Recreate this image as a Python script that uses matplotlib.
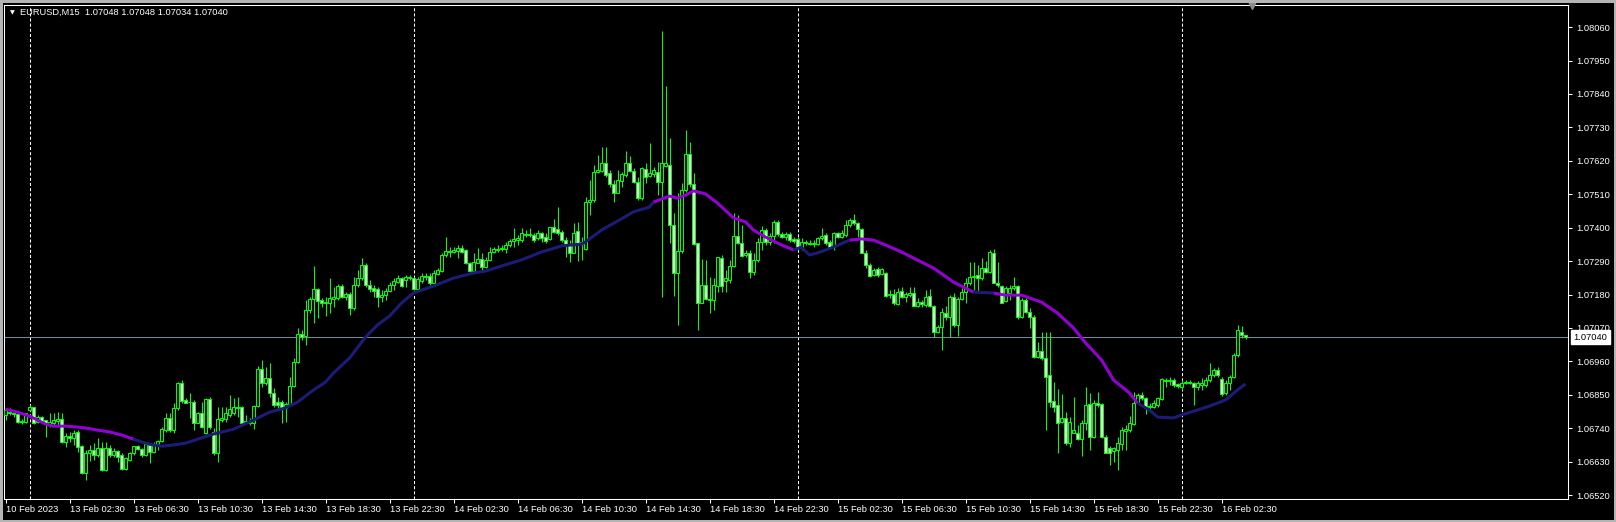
import numpy as np
import matplotlib
matplotlib.use("Agg")
import matplotlib.pyplot as plt
from matplotlib.patches import Rectangle
from matplotlib.transforms import blended_transform_factory

plt.rcParams["font.family"] = ["Liberation Sans", "DejaVu Sans"]
plt.rcParams["lines.scale_dashes"] = False

# EURUSD M15 bars, index 0 = 13 Feb 00:00 (bars -6..-1 are the close of 10 Feb)
bars = np.arange(-6, 305)

opens = [
    1.06784, 1.06793, 1.06790, 1.06787, 1.06761, 1.06761, 1.06800, 1.06810, 1.06761, 1.06777,
    1.06767, 1.06754, 1.06757, 1.06764, 1.06770, 1.06695, 1.06714, 1.06708, 1.06728, 1.06681,
    1.06593, 1.06659, 1.06669, 1.06652, 1.06675, 1.06603, 1.06675, 1.06652, 1.06665, 1.06652,
    1.06606, 1.06636, 1.06659, 1.06681, 1.06671, 1.06652, 1.06685, 1.06662, 1.06688, 1.06698,
    1.06734, 1.06774, 1.06734, 1.06807, 1.06889, 1.06833, 1.06826, 1.06826, 1.06757, 1.06790,
    1.06724, 1.06836, 1.06728, 1.06659, 1.06767, 1.06770, 1.06784, 1.06790, 1.06810, 1.06810,
    1.06757, 1.06764, 1.06757, 1.06813, 1.06935, 1.06889, 1.06905, 1.06856, 1.06826, 1.06826,
    1.06807, 1.06820, 1.06879, 1.06958, 1.07050, 1.07043, 1.07129, 1.07165, 1.07198, 1.07162,
    1.07152, 1.07152, 1.07165, 1.07169, 1.07208, 1.07172, 1.07182, 1.07136, 1.07211, 1.07234,
    1.07277, 1.07211, 1.07201, 1.07198, 1.07172, 1.07178, 1.07192, 1.07211, 1.07221, 1.07234,
    1.07228, 1.07234, 1.07234, 1.07198, 1.07225, 1.07241, 1.07241, 1.07218, 1.07248, 1.07257,
    1.07310, 1.07323, 1.07320, 1.07323, 1.07333, 1.07327, 1.07284, 1.07257, 1.07284, 1.07297,
    1.07271, 1.07294, 1.07320, 1.07327, 1.07330, 1.07330, 1.07343, 1.07356, 1.07359, 1.07359,
    1.07379, 1.07376, 1.07376, 1.07366, 1.07383, 1.07369, 1.07363, 1.07402, 1.07396, 1.07386,
    1.07359, 1.07343, 1.07317, 1.07389, 1.07346, 1.07330, 1.07484, 1.07491, 1.07583, 1.07586,
    1.07613, 1.07580, 1.07544, 1.07514, 1.07554, 1.07573, 1.07613, 1.07586, 1.07550, 1.07497,
    1.07593, 1.07570, 1.07577, 1.07583, 1.07550, 1.07603, 1.07606, 1.07409, 1.07251, 1.07323,
    1.07524, 1.07642, 1.07544, 1.07350, 1.07152, 1.07211, 1.07165, 1.07162, 1.07208, 1.07300,
    1.07225, 1.07228, 1.07274, 1.07373, 1.07350, 1.07310, 1.07317, 1.07254, 1.07294, 1.07353,
    1.07392, 1.07353, 1.07373, 1.07419, 1.07379, 1.07369, 1.07379, 1.07363, 1.07363, 1.07333,
    1.07353, 1.07346, 1.07350, 1.07346, 1.07366, 1.07376, 1.07353, 1.07336, 1.07383, 1.07369,
    1.07376, 1.07409, 1.07425, 1.07415, 1.07396, 1.07317, 1.07277, 1.07244, 1.07264, 1.07248,
    1.07251, 1.07178, 1.07182, 1.07149, 1.07192, 1.07172, 1.07178, 1.07185, 1.07142, 1.07155,
    1.07146, 1.07175, 1.07142, 1.07057, 1.07073, 1.07119, 1.07106, 1.07172, 1.07080, 1.07165,
    1.07188, 1.07218, 1.07238, 1.07244, 1.07234, 1.07267, 1.07254, 1.07317, 1.07218, 1.07208,
    1.07159, 1.07185, 1.07201, 1.07208, 1.07106, 1.07162, 1.07122, 1.07106, 1.06974, 1.06994,
    1.06971, 1.06915, 1.06830, 1.06817, 1.06761, 1.06774, 1.06691, 1.06724, 1.06724, 1.06704,
    1.06757, 1.06820, 1.06711, 1.06823, 1.06820, 1.06711, 1.06675, 1.06665, 1.06669, 1.06688,
    1.06731, 1.06734, 1.06754, 1.06826, 1.06849, 1.06840, 1.06813, 1.06810, 1.06817, 1.06836,
    1.06899, 1.06896, 1.06899, 1.06886, 1.06876, 1.06889, 1.06892, 1.06889, 1.06876, 1.06882,
    1.06882, 1.06899, 1.06915, 1.06932, 1.06902, 1.06856, 1.06889, 1.06909, 1.06981, 1.07057,
    1.07048,
]

highs = [
    1.06807, 1.06807, 1.06793, 1.06790, 1.06770, 1.06790, 1.06817, 1.06810, 1.06784, 1.06780,
    1.06767, 1.06790, 1.06790, 1.06793, 1.06790, 1.06724, 1.06728, 1.06734, 1.06734, 1.06685,
    1.06669, 1.06685, 1.06691, 1.06708, 1.06695, 1.06695, 1.06685, 1.06675, 1.06669, 1.06659,
    1.06645, 1.06662, 1.06681, 1.06685, 1.06675, 1.06691, 1.06691, 1.06695, 1.06701, 1.06744,
    1.06790, 1.06790, 1.06823, 1.06892, 1.06899, 1.06840, 1.06856, 1.06833, 1.06793, 1.06826,
    1.06840, 1.06843, 1.06741, 1.06810, 1.06810, 1.06810, 1.06849, 1.06840, 1.06843, 1.06813,
    1.06784, 1.06774, 1.06817, 1.06945, 1.06965, 1.06941, 1.06955, 1.06872, 1.06843, 1.06833,
    1.06826, 1.06909, 1.06971, 1.07070, 1.07063, 1.07162, 1.07172, 1.07274, 1.07201, 1.07169,
    1.07172, 1.07234, 1.07205, 1.07215, 1.07215, 1.07188, 1.07188, 1.07238, 1.07261, 1.07300,
    1.07284, 1.07228, 1.07211, 1.07205, 1.07195, 1.07201, 1.07221, 1.07234, 1.07244, 1.07238,
    1.07244, 1.07244, 1.07238, 1.07238, 1.07251, 1.07251, 1.07251, 1.07261, 1.07267, 1.07317,
    1.07369, 1.07336, 1.07336, 1.07343, 1.07343, 1.07330, 1.07287, 1.07317, 1.07333, 1.07317,
    1.07304, 1.07336, 1.07336, 1.07343, 1.07343, 1.07353, 1.07363, 1.07399, 1.07376, 1.07399,
    1.07392, 1.07399, 1.07383, 1.07392, 1.07386, 1.07383, 1.07402, 1.07429, 1.07468, 1.07392,
    1.07369, 1.07359, 1.07415, 1.07419, 1.07369, 1.07501, 1.07557, 1.07606, 1.07639, 1.07665,
    1.07665, 1.07590, 1.07557, 1.07590, 1.07583, 1.07652, 1.07636, 1.07596, 1.07567, 1.07599,
    1.07613, 1.07678, 1.07599, 1.07616, 1.08047, 1.07866, 1.07695, 1.07448, 1.07514, 1.07547,
    1.07721, 1.07681, 1.07580, 1.07350, 1.07297, 1.07294, 1.07238, 1.07234, 1.07304, 1.07310,
    1.07261, 1.07294, 1.07448, 1.07442, 1.07409, 1.07327, 1.07327, 1.07317, 1.07366, 1.07406,
    1.07399, 1.07383, 1.07425, 1.07425, 1.07386, 1.07386, 1.07386, 1.07369, 1.07369, 1.07366,
    1.07359, 1.07359, 1.07359, 1.07369, 1.07399, 1.07383, 1.07359, 1.07386, 1.07386, 1.07392,
    1.07425, 1.07432, 1.07445, 1.07419, 1.07399, 1.07327, 1.07284, 1.07267, 1.07271, 1.07267,
    1.07254, 1.07195, 1.07198, 1.07201, 1.07205, 1.07188, 1.07205, 1.07205, 1.07169, 1.07162,
    1.07195, 1.07198, 1.07146, 1.07080, 1.07136, 1.07142, 1.07178, 1.07185, 1.07172, 1.07201,
    1.07234, 1.07287, 1.07287, 1.07277, 1.07300, 1.07290, 1.07327, 1.07330, 1.07287, 1.07211,
    1.07208, 1.07211, 1.07238, 1.07211, 1.07169, 1.07169, 1.07136, 1.07113, 1.07024, 1.07057,
    1.07057, 1.07057, 1.06892, 1.06869, 1.06853, 1.06793, 1.06777, 1.06843, 1.06751, 1.06767,
    1.06876, 1.06856, 1.06833, 1.06859, 1.06823, 1.06718, 1.06681, 1.06678, 1.06711, 1.06744,
    1.06751, 1.06780, 1.06859, 1.06856, 1.06859, 1.06843, 1.06823, 1.06833, 1.06843, 1.06905,
    1.06905, 1.06909, 1.06905, 1.06889, 1.06899, 1.06899, 1.06899, 1.06892, 1.06896, 1.06905,
    1.06909, 1.06955, 1.06938, 1.06941, 1.06909, 1.06899, 1.06915, 1.06988, 1.07080, 1.07076,
    1.07048,
]

lows = [
    1.06767, 1.06784, 1.06777, 1.06757, 1.06754, 1.06757, 1.06797, 1.06754, 1.06757, 1.06761,
    1.06711, 1.06744, 1.06751, 1.06751, 1.06691, 1.06678, 1.06695, 1.06685, 1.06662, 1.06590,
    1.06570, 1.06632, 1.06636, 1.06645, 1.06599, 1.06599, 1.06645, 1.06645, 1.06629, 1.06603,
    1.06603, 1.06632, 1.06652, 1.06669, 1.06645, 1.06649, 1.06626, 1.06659, 1.06669, 1.06695,
    1.06728, 1.06728, 1.06724, 1.06800, 1.06823, 1.06823, 1.06774, 1.06734, 1.06757, 1.06741,
    1.06721, 1.06737, 1.06652, 1.06629, 1.06761, 1.06761, 1.06777, 1.06784, 1.06777, 1.06754,
    1.06757, 1.06751, 1.06737, 1.06810, 1.06876, 1.06882, 1.06843, 1.06810, 1.06800, 1.06757,
    1.06761, 1.06813, 1.06876, 1.06955, 1.07030, 1.07014, 1.07119, 1.07086, 1.07103, 1.07139,
    1.07109, 1.07119, 1.07139, 1.07162, 1.07169, 1.07162, 1.07113, 1.07129, 1.07205, 1.07228,
    1.07205, 1.07188, 1.07172, 1.07139, 1.07155, 1.07162, 1.07188, 1.07195, 1.07218, 1.07205,
    1.07205, 1.07228, 1.07195, 1.07195, 1.07218, 1.07228, 1.07211, 1.07211, 1.07244, 1.07254,
    1.07304, 1.07304, 1.07317, 1.07300, 1.07317, 1.07280, 1.07254, 1.07254, 1.07284, 1.07261,
    1.07267, 1.07290, 1.07317, 1.07320, 1.07323, 1.07317, 1.07336, 1.07336, 1.07343, 1.07353,
    1.07369, 1.07369, 1.07353, 1.07359, 1.07353, 1.07350, 1.07359, 1.07383, 1.07376, 1.07353,
    1.07304, 1.07287, 1.07317, 1.07290, 1.07294, 1.07327, 1.07442, 1.07484, 1.07580, 1.07583,
    1.07567, 1.07534, 1.07484, 1.07514, 1.07534, 1.07567, 1.07583, 1.07547, 1.07491, 1.07491,
    1.07547, 1.07567, 1.07567, 1.07507, 1.07172, 1.07599, 1.07350, 1.07175, 1.07080, 1.07317,
    1.07517, 1.07534, 1.07343, 1.07063, 1.07152, 1.07162, 1.07119, 1.07129, 1.07188, 1.07188,
    1.07188, 1.07218, 1.07271, 1.07346, 1.07304, 1.07304, 1.07234, 1.07244, 1.07287, 1.07327,
    1.07343, 1.07343, 1.07350, 1.07373, 1.07366, 1.07359, 1.07353, 1.07350, 1.07327, 1.07327,
    1.07343, 1.07343, 1.07336, 1.07343, 1.07359, 1.07343, 1.07333, 1.07327, 1.07366, 1.07366,
    1.07369, 1.07402, 1.07409, 1.07369, 1.07317, 1.07267, 1.07238, 1.07241, 1.07238, 1.07244,
    1.07172, 1.07169, 1.07146, 1.07146, 1.07169, 1.07155, 1.07172, 1.07142, 1.07139, 1.07139,
    1.07139, 1.07139, 1.07040, 1.07053, 1.06998, 1.07096, 1.07040, 1.07073, 1.07043, 1.07162,
    1.07152, 1.07211, 1.07195, 1.07188, 1.07228, 1.07251, 1.07251, 1.07218, 1.07205, 1.07152,
    1.07155, 1.07162, 1.07195, 1.07099, 1.07103, 1.07119, 1.07070, 1.06971, 1.06971, 1.06965,
    1.06734, 1.06810, 1.06793, 1.06659, 1.06757, 1.06685, 1.06678, 1.06724, 1.06701, 1.06649,
    1.06734, 1.06669, 1.06708, 1.06810, 1.06708, 1.06659, 1.06619, 1.06629, 1.06603, 1.06669,
    1.06669, 1.06728, 1.06751, 1.06823, 1.06833, 1.06787, 1.06800, 1.06807, 1.06810, 1.06833,
    1.06876, 1.06882, 1.06876, 1.06872, 1.06866, 1.06886, 1.06886, 1.06817, 1.06866, 1.06866,
    1.06876, 1.06892, 1.06909, 1.06909, 1.06846, 1.06849, 1.06866, 1.06905, 1.06974, 1.07037,
    1.07034,
]

closes = [
    1.06800, 1.06790, 1.06787, 1.06761, 1.06764, 1.06790, 1.06810, 1.06757, 1.06777, 1.06764,
    1.06754, 1.06761, 1.06767, 1.06770, 1.06695, 1.06714, 1.06708, 1.06724, 1.06678, 1.06593,
    1.06659, 1.06669, 1.06652, 1.06675, 1.06603, 1.06675, 1.06652, 1.06665, 1.06645, 1.06606,
    1.06642, 1.06659, 1.06681, 1.06671, 1.06652, 1.06688, 1.06662, 1.06685, 1.06698, 1.06737,
    1.06774, 1.06734, 1.06807, 1.06889, 1.06830, 1.06823, 1.06827, 1.06757, 1.06790, 1.06744,
    1.06836, 1.06744, 1.06659, 1.06770, 1.06774, 1.06790, 1.06803, 1.06810, 1.06807, 1.06757,
    1.06764, 1.06757, 1.06813, 1.06935, 1.06889, 1.06905, 1.06856, 1.06817, 1.06817, 1.06807,
    1.06820, 1.06879, 1.06958, 1.07050, 1.07040, 1.07129, 1.07165, 1.07198, 1.07159, 1.07152,
    1.07155, 1.07169, 1.07172, 1.07208, 1.07172, 1.07182, 1.07136, 1.07211, 1.07234, 1.07277,
    1.07211, 1.07198, 1.07192, 1.07172, 1.07178, 1.07192, 1.07211, 1.07225, 1.07234, 1.07208,
    1.07238, 1.07238, 1.07198, 1.07231, 1.07241, 1.07238, 1.07218, 1.07251, 1.07261, 1.07310,
    1.07323, 1.07320, 1.07327, 1.07333, 1.07320, 1.07284, 1.07257, 1.07287, 1.07297, 1.07271,
    1.07294, 1.07320, 1.07330, 1.07330, 1.07333, 1.07343, 1.07356, 1.07363, 1.07366, 1.07383,
    1.07376, 1.07379, 1.07359, 1.07383, 1.07366, 1.07356, 1.07402, 1.07386, 1.07383, 1.07359,
    1.07343, 1.07317, 1.07383, 1.07350, 1.07353, 1.07484, 1.07491, 1.07583, 1.07590, 1.07613,
    1.07573, 1.07544, 1.07514, 1.07557, 1.07577, 1.07613, 1.07586, 1.07550, 1.07497, 1.07596,
    1.07567, 1.07580, 1.07590, 1.07550, 1.07613, 1.07613, 1.07409, 1.07251, 1.07323, 1.07524,
    1.07642, 1.07544, 1.07346, 1.07152, 1.07211, 1.07165, 1.07162, 1.07211, 1.07304, 1.07208,
    1.07234, 1.07274, 1.07373, 1.07350, 1.07307, 1.07317, 1.07254, 1.07294, 1.07353, 1.07392,
    1.07353, 1.07373, 1.07419, 1.07379, 1.07369, 1.07379, 1.07359, 1.07356, 1.07336, 1.07353,
    1.07350, 1.07350, 1.07346, 1.07366, 1.07373, 1.07350, 1.07336, 1.07383, 1.07369, 1.07383,
    1.07409, 1.07425, 1.07415, 1.07396, 1.07317, 1.07277, 1.07241, 1.07261, 1.07244, 1.07264,
    1.07175, 1.07182, 1.07152, 1.07188, 1.07172, 1.07182, 1.07185, 1.07142, 1.07155, 1.07149,
    1.07172, 1.07142, 1.07057, 1.07073, 1.07122, 1.07106, 1.07172, 1.07080, 1.07165, 1.07188,
    1.07218, 1.07238, 1.07241, 1.07234, 1.07267, 1.07254, 1.07320, 1.07218, 1.07211, 1.07152,
    1.07201, 1.07201, 1.07208, 1.07106, 1.07162, 1.07122, 1.07106, 1.06974, 1.06994, 1.06971,
    1.06909, 1.06826, 1.06810, 1.06757, 1.06774, 1.06691, 1.06761, 1.06734, 1.06704, 1.06757,
    1.06817, 1.06711, 1.06823, 1.06817, 1.06711, 1.06659, 1.06659, 1.06675, 1.06691, 1.06734,
    1.06737, 1.06757, 1.06823, 1.06849, 1.06840, 1.06807, 1.06810, 1.06823, 1.06840, 1.06902,
    1.06896, 1.06899, 1.06882, 1.06879, 1.06889, 1.06892, 1.06889, 1.06876, 1.06889, 1.06889,
    1.06899, 1.06915, 1.06932, 1.06915, 1.06853, 1.06889, 1.06909, 1.06981, 1.07063, 1.07047,
    1.07040,
]

# moving average, read at sample bars
ma_bars = [-6, -3, 0, 2, 4, 6, 9, 12, 14, 17, 20, 23, 26, 29, 31, 33, 36, 39, 42, 46,
           51, 56, 60, 64, 67, 71, 74, 76, 80, 84, 87, 90, 93, 96, 101, 106, 111, 114, 118, 123,
           128, 133, 138, 139, 143, 148, 151, 155, 156, 160, 162, 164, 166, 169, 172, 176, 179, 181, 184, 188,
           191, 193, 195, 197, 201, 205, 208, 211, 214, 218, 221, 226, 231, 236, 241, 244, 248, 253, 257, 261,
           264, 268, 271, 275, 277, 280, 282, 286, 288, 292, 295, 299, 302, 304]
ma_vals = [1.06803, 1.06793, 1.06780, 1.06767, 1.06754, 1.06747, 1.06747, 1.06744, 1.06741, 1.06734,
           1.06728, 1.06718, 1.06704, 1.06691, 1.06685, 1.06681, 1.06685, 1.06691, 1.06704, 1.06721,
           1.06737, 1.06767, 1.06793, 1.06807, 1.06826, 1.06866, 1.06892, 1.06922, 1.06971, 1.07040,
           1.07080, 1.07109, 1.07152, 1.07185, 1.07208, 1.07234, 1.07251, 1.07257, 1.07274, 1.07294,
           1.07320, 1.07340, 1.07346, 1.07353, 1.07392, 1.07429, 1.07452, 1.07468, 1.07484, 1.07504,
           1.07497, 1.07507, 1.07521, 1.07511, 1.07481, 1.07432, 1.07419, 1.07392, 1.07369, 1.07343,
           1.07327, 1.07336, 1.07310, 1.07317, 1.07336, 1.07359, 1.07363, 1.07359, 1.07343, 1.07320,
           1.07300, 1.07267, 1.07221, 1.07188, 1.07185, 1.07178, 1.07178, 1.07155, 1.07119, 1.07070,
           1.07021, 1.06965, 1.06899, 1.06856, 1.06823, 1.06800, 1.06777, 1.06774, 1.06784, 1.06800,
           1.06813, 1.06833, 1.06866, 1.06886]
# colour changes of the MA (purple / navy alternating, starting purple)
ma_switch = [26, 156, 191, 205, 236, 241, 277]
ma_colors = ["#9400d3", "#1c1c78"]

y_ticks = [1.08060, 1.07950, 1.07840, 1.07730, 1.07620, 1.07510, 1.07400, 1.07290,
           1.07180, 1.07070, 1.06960, 1.06850, 1.06740, 1.06630, 1.06520]
x_tick_bars = [-6, 10, 26, 42, 58, 74, 90, 106, 122, 138, 154, 170, 186, 202, 218, 234, 250, 266, 282, 298]
x_tick_labels = ["10 Feb 2023", "13 Feb 02:30", "13 Feb 06:30", "13 Feb 10:30", "13 Feb 14:30",
                 "13 Feb 18:30", "13 Feb 22:30", "14 Feb 02:30", "14 Feb 06:30", "14 Feb 10:30",
                 "14 Feb 14:30", "14 Feb 18:30", "14 Feb 22:30", "15 Feb 02:30", "15 Feb 06:30",
                 "15 Feb 10:30", "15 Feb 14:30", "15 Feb 18:30", "15 Feb 22:30", "16 Feb 02:30"]
day_starts = [0, 96, 192, 288]
last_price = 1.07040
header = "EURUSD,M15  1.07048 1.07048 1.07034 1.07040"

W, H = 1616, 522
fig = plt.figure(figsize=(W / 100, H / 100), dpi=100, facecolor="black")
ax = fig.add_axes([4 / W, (H - 499) / H, (1568 - 4) / W, (499 - 5) / H], facecolor="black")
ax.set_xlim(-6.375, 384.625)
ax.set_ylim(1.065073, 1.081326)

o, h, l, c = (np.array(v) for v in (opens, highs, lows, closes))
up = c >= o
lime = "#00ff00"
ax.vlines(bars, l, h, color=lime, lw=0.75, zorder=2)
ax.bar(bars, c - o, bottom=o, width=0.55, color=np.where(up, "black", "white"),
       edgecolor=lime, linewidth=0.75, zorder=3)

# moving average
mb = np.array(ma_bars)
mv = np.array(ma_vals)
bounds = [bars[0]] + ma_switch + [bars[-1]]
for k in range(len(bounds) - 1):
    m = (mb >= bounds[k]) & (mb <= bounds[k + 1])
    ax.plot(mb[m], mv[m], color=ma_colors[k % 2], lw=2.2, zorder=4, solid_capstyle="butt")

# period separators and bid line
for d in day_starts:
    ax.axvline(d, color="white", lw=0.75, dashes=(2.2, 1.5), zorder=1)
ax.axhline(last_price, color="#778899", lw=0.75, zorder=1.5)

# axes styling
for s in ax.spines.values():
    s.set_color("white")
    s.set_linewidth(0.75)
ax.yaxis.tick_right()
ax.set_yticks(y_ticks)
ax.set_yticklabels([f"{v:.5f}" for v in y_ticks])
ax.tick_params(axis="y", colors="white", length=3, width=0.75, pad=3, labelsize=6.7)
ax.set_xticks(x_tick_bars)
ax.set_xticklabels(x_tick_labels, ha="left")
ax.tick_params(axis="x", colors="white", length=3, width=0.75, pad=1.5, labelsize=6.7)

# current price box
trans = blended_transform_factory(ax.transAxes, ax.transData)
ax.annotate(f"{last_price:.5f}", xy=(1, last_price), xycoords=trans, xytext=(4, 0),
            textcoords="offset points", ha="left", va="center", fontsize=6.7, color="black",
            bbox=dict(boxstyle="square,pad=0.3", fc="white", ec="white"), annotation_clip=False)

# chart shift marker
ax.plot([305.6], [1.081326], marker="v", ms=6, color="#8c8c8c", clip_on=False, zorder=5)

# header
fig.text(12.5 / W, 1 - 12.5 / H, "\u25bc", color="white", fontsize=4.5, ha="center", va="center",
         family="DejaVu Sans")
fig.text(20 / W, 1 - 12.5 / H, header, color="white", fontsize=6.7, ha="left", va="center")

# window frame
fig.patches.append(Rectangle((0, 0), 1, 1, transform=fig.transFigure, fill=False,
                             edgecolor="#b4b4b4", lw=3.6))

fig.savefig("out.png", dpi=100, facecolor="black")
